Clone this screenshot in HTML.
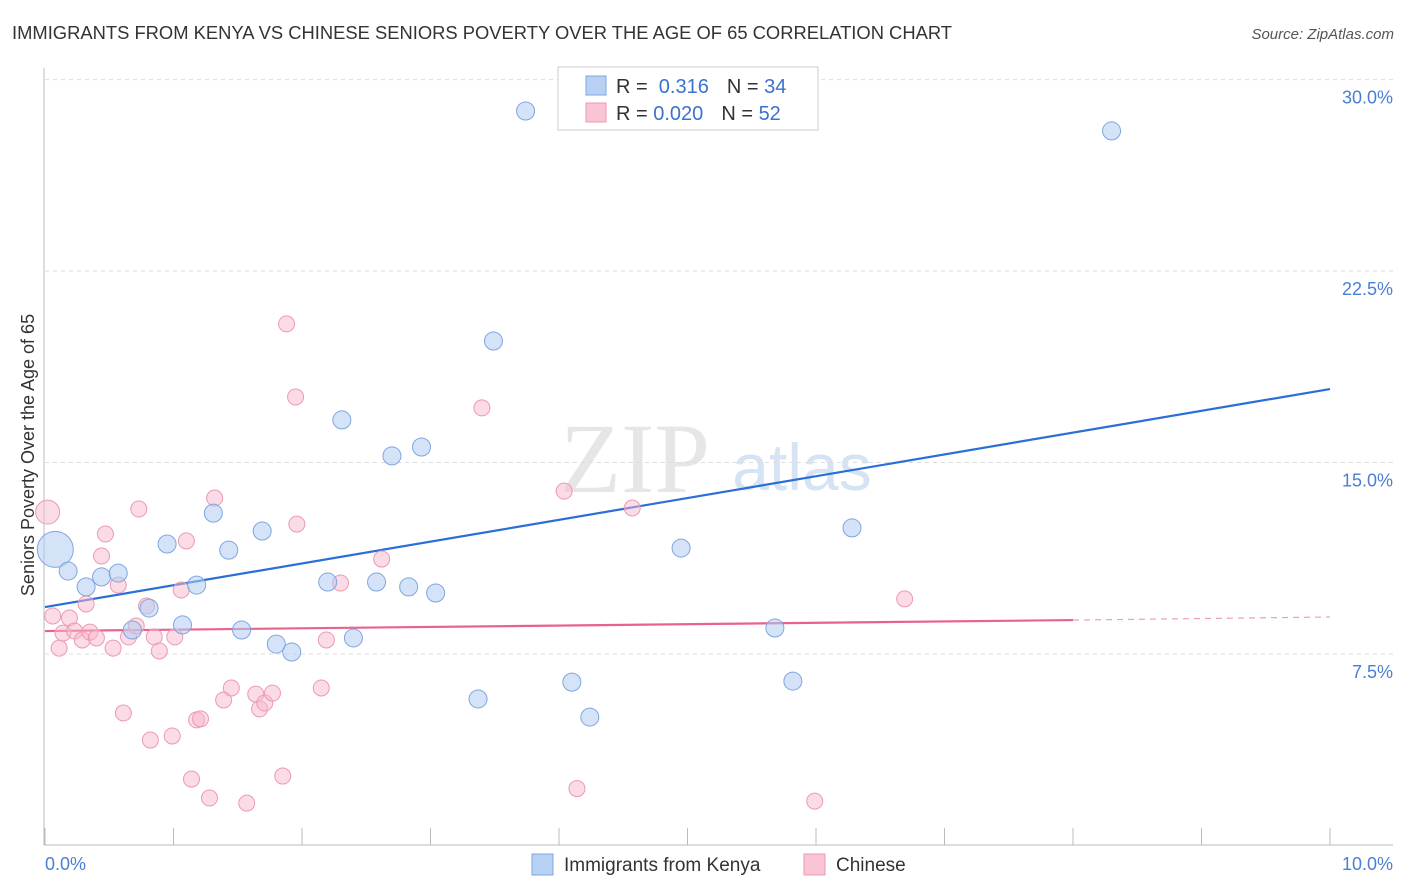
<!DOCTYPE html>
<html><head><meta charset="utf-8">
<style>
body{margin:0;background:#fff;font-family:"Liberation Sans",sans-serif;}
#wrap{position:relative;width:1406px;height:892px;overflow:hidden;}
</style></head>
<body>
<div id="wrap">
<svg id="chart" width="1406" height="892" xmlns="http://www.w3.org/2000/svg">
<text x="12" y="39" font-size="18" fill="#333" textLength="940" lengthAdjust="spacingAndGlyphs">IMMIGRANTS FROM KENYA VS CHINESE SENIORS POVERTY OVER THE AGE OF 65 CORRELATION CHART</text>
<text x="1394" y="39" font-size="15" fill="#555" font-style="italic" text-anchor="end">Source: ZipAtlas.com</text>
<text x="635" y="492" font-size="100" fill="#e6e6e6" font-family="Liberation Serif,serif" text-anchor="middle">ZIP</text>
<text x="802" y="490" font-size="66" fill="#d5e3f4" text-anchor="middle">atlas</text>
<g id="grid"></g>
<g id="axes"></g>
<g id="trend"></g>
<g id="pts"></g>
<text x="34" y="455" font-size="18" fill="#333" text-anchor="middle" transform="rotate(-90 34 455)">Seniors Poverty Over the Age of 65</text>
<text x="45" y="870" font-size="18" fill="#4a7fd4">0.0%</text>
<text x="1393" y="870" font-size="18" fill="#4a7fd4" text-anchor="end">10.0%</text>
<g>
<rect x="558" y="67" width="260" height="63" fill="#fff" stroke="#ccc"/>
<rect x="586" y="76" width="20" height="19" fill="#b8d0f2" stroke="#7ea6e0"/>
<rect x="586" y="103" width="20" height="19" fill="#f9c5d4" stroke="#ec9ab2"/>
<text x="616" y="93" font-size="20" fill="#333">R = <tspan fill="#3a72d0">&#160;0.316</tspan><tspan dx="18">N = </tspan><tspan fill="#3a72d0">34</tspan></text>
<text x="616" y="120" font-size="20" fill="#333">R = <tspan fill="#3a72d0">0.020</tspan><tspan dx="18">N = </tspan><tspan fill="#3a72d0">52</tspan></text>
</g>
<g>
<rect x="532" y="854" width="21" height="21" fill="#b8d0f2" stroke="#7ea6e0"/>
<text x="564" y="871" font-size="19" fill="#333">Immigrants from Kenya</text>
</g>
<g>
<rect x="804" y="854" width="21" height="21" fill="#f9c5d4" stroke="#ec9ab2"/>
<text x="836" y="871" font-size="19" fill="#333">Chinese</text>
</g>
</svg>
</div>
<script>
const yTicks=[7.5,15,22.5,30];
const yTickLabels=["7.5%","15.0%","22.5%","30.0%"];
const xTicks=[0,1,2,3,4,5,6,7,8,9,10];
const kenyaX=[0.08,0.18,0.32,0.44,0.57,0.68,0.81,0.95,1.07,1.18,1.31,1.43,1.53,1.69,1.80,1.92,2.20,2.31,2.40,2.58,2.70,2.83,2.93,3.04,3.37,3.49,3.74,4.10,4.24,4.95,5.68,5.82,6.28,8.30];
const kenyaY=[11.6,10.75,10.13,10.52,10.67,8.44,9.30,11.81,8.64,10.20,13.02,11.57,8.44,12.32,7.89,7.58,10.32,16.67,8.13,10.32,15.26,10.13,15.61,9.89,5.74,19.76,28.77,6.40,5.03,11.65,8.52,6.44,12.44,27.99];
const kenyaSize=[18,9,9,9,9,9,9,9,9,9,9,9,9,9,9,9,9,9,9,9,9,9,9,9,9,9,9,9,9,9,9,9,9,9];
const chineseX=[0.02,0.06,0.11,0.14,0.19,0.23,0.29,0.32,0.35,0.40,0.44,0.47,0.53,0.57,0.61,0.65,0.71,0.73,0.79,0.82,0.85,0.89,0.99,1.01,1.06,1.10,1.14,1.18,1.21,1.28,1.32,1.39,1.45,1.57,1.64,1.67,1.71,1.77,1.85,1.88,1.95,1.96,2.15,2.19,2.30,2.62,3.40,4.04,4.14,4.57,5.99,6.69];
const chineseY=[13.06,8.99,7.73,8.32,8.91,8.40,8.05,9.46,8.36,8.13,11.34,12.20,7.73,10.20,5.19,8.17,8.60,13.18,9.38,4.13,8.17,7.62,4.29,8.17,10.01,11.93,2.60,4.92,4.96,1.86,13.61,5.70,6.17,1.66,5.93,5.35,5.58,5.97,2.72,20.43,17.57,12.59,6.17,8.05,10.28,11.22,17.14,13.88,2.23,13.22,1.74,9.66];
const chineseSize=[12,8,8,8,8,8,8,8,8,8,8,8,8,8,8,8,8,8,8,8,8,8,8,8,8,8,8,8,8,8,8,8,8,8,8,8,8,8,8,8,8,8,8,8,8,8,8,8,8,8,8,8];
const kenyaTrend=[9.34,17.88];
const chineseTrend=[8.40,8.83,8.95];
const NS="http://www.w3.org/2000/svg";
function sx(v){return 45+v*128.5;}
function sy(v){return 845.5-v*25.53;}
function mk(tag,attrs,parent){const e=document.createElementNS(NS,tag);for(const k in attrs)e.setAttribute(k,attrs[k]);parent.appendChild(e);return e;}
const grid=document.getElementById('grid'),axes=document.getElementById('axes'),trend=document.getElementById('trend'),pts=document.getElementById('pts');
yTicks.forEach((t,i)=>{
 const l=mk('line',{x1:45,x2:1393,y1:sy(t),y2:sy(t),stroke:'#ddd','stroke-dasharray':'4,4'},grid);
 
 
 const tx=mk('text',{x:1393,y:sy(t)+24,'font-size':18,fill:'#4a7fd4','text-anchor':'end'},grid);
 tx.textContent=yTickLabels[i];
 
 
});
const ax=mk('line',{x1:44,x2:1393,y1:845,y2:845,stroke:'#bbb'},axes);


const ay=mk('line',{x1:44,x2:44,y1:68,y2:845,stroke:'#bbb'},axes);


xTicks.forEach(t=>{
 const l=mk('line',{x1:sx(t),x2:sx(t),y1:828,y2:845,stroke:'#bbb'},axes);
 
 
});
const bl=mk('line',{x1:sx(0),x2:sx(10),y1:sy(kenyaTrend[0]),y2:sy(kenyaTrend[1]),stroke:'#2a6fd6','stroke-width':2.2},trend);


const pl=mk('line',{x1:sx(0),x2:sx(8),y1:sy(chineseTrend[0]),y2:sy(chineseTrend[1]),stroke:'#e8628e','stroke-width':2.2},trend);


const pd=mk('line',{x1:sx(8),x2:sx(10),y1:sy(chineseTrend[1]),y2:sy(chineseTrend[2]),stroke:'#eba0b8','stroke-width':1.2,'stroke-dasharray':'6,5'},trend);


chineseX.forEach((x,i)=>{
 const c=mk('circle',{cx:sx(x),cy:sy(chineseY[i]),r:chineseSize[i],fill:'rgba(248,184,204,0.5)',stroke:'#ec9ab2','stroke-width':1},pts);
 
 
});
kenyaX.forEach((x,i)=>{
 const c=mk('circle',{cx:sx(x),cy:sy(kenyaY[i]),r:kenyaSize[i],fill:'rgba(176,204,242,0.55)',stroke:'#7ea6e0','stroke-width':1},pts);
 
 
});
</script>
</body></html>
